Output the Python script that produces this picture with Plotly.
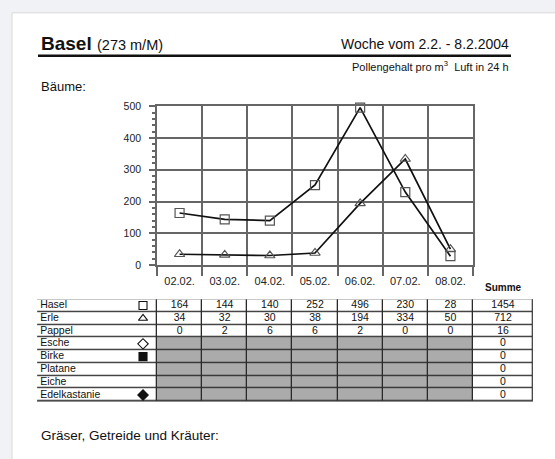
import plotly.graph_objects as go

# ---------------- data ----------------
days = ["02.02.", "03.02.", "04.02.", "05.02.", "06.02.", "07.02.", "08.02."]
hasel = [164, 144, 140, 252, 496, 230, 28]
erle = [34, 32, 30, 38, 194, 334, 50]
pappel = [0, 2, 6, 6, 2, 0, 0]
species = ["Hasel", "Erle", "Pappel", "Esche", "Birke", "Platane", "Eiche", "Edelkastanie"]
species_symbols = ["square-open", "triangle-up-open", None, "diamond-open", "square", None, None, "diamond"]
summe = [1454, 712, 16, 0, 0, 0, 0, 0]
table_values = [hasel, erle, pappel, None, None, None, None, None]
y_ticks = [0, 100, 200, 300, 400, 500]

# ---------------- layout helpers ----------------
W, H = 555, 459
def px(x):
    return x / W
def py(y):
    return 1 - y / H

FONT = "Liberation Sans, Arial, sans-serif"
GRID = "#666666"

# table column geometry in category units (1 unit == one day column)
name_w = (157 - 37) / ((473 - 157) / 7)
sum_w = (533 - 473) / ((473 - 157) / 7)
x_left = -0.5 - name_w
x_right = 6.5 + sum_w
x_edges = [x_left] + [i - 0.5 for i in range(len(days) + 1)] + [x_right]
sum_x = (6.5 + x_right) / 2

fig = go.Figure()

# ---------------- chart ----------------
fig.add_trace(go.Scatter(
    x=days, y=hasel, mode="lines+markers", name="Hasel",
    line=dict(color="#111111", width=1.7),
    marker=dict(symbol="square-open", size=9, color="#555555", line=dict(width=1.2)),
    cliponaxis=False, hoverinfo="skip", showlegend=False))
fig.add_trace(go.Scatter(
    x=days, y=erle, mode="lines+markers", name="Erle",
    line=dict(color="#111111", width=1.7),
    marker=dict(symbol="triangle-up-open", size=9, color="#555555", line=dict(width=1.2)),
    cliponaxis=False, hoverinfo="skip", showlegend=False))

# ---------------- table ----------------
n_rows = len(species)
z = []
for r in range(n_rows):
    row = [0]
    for c in range(len(days)):
        row.append(1 if table_values[r] is None else 0)
    row.append(0)
    z.append(row)

fig.add_trace(go.Heatmap(
    z=z, x=x_edges, y=[r - 0.5 for r in range(n_rows + 1)],
    colorscale=[[0, "#ffffff"], [1, "#ababab"]], zmin=0, zmax=1,
    showscale=False, xgap=1.3, ygap=1.3, hoverinfo="skip",
    xaxis="x2", yaxis="y2"))

# cell values
vx, vy, vt = [], [], []
for r in range(n_rows):
    if table_values[r] is not None:
        for c, v in enumerate(table_values[r]):
            vx.append(c); vy.append(r); vt.append(str(v))
    vx.append(sum_x); vy.append(r); vt.append(str(summe[r]))
fig.add_trace(go.Scatter(
    x=vx, y=vy, text=vt, mode="text", textposition="middle center",
    textfont=dict(family=FONT, size=10.5, color="#111111"),
    xaxis="x2", yaxis="y2", hoverinfo="skip", showlegend=False, cliponaxis=False))

# species names
fig.add_trace(go.Scatter(
    x=[x_left + 0.07] * n_rows, y=list(range(n_rows)), text=species,
    mode="text", textposition="middle right",
    textfont=dict(family=FONT, size=10.5, color="#111111"),
    xaxis="x2", yaxis="y2", hoverinfo="skip", showlegend=False, cliponaxis=False))

# symbols
sx, sy, ss = [], [], []
for r, s in enumerate(species_symbols):
    if s is not None:
        sx.append(-0.81); sy.append(r); ss.append(s)
fig.add_trace(go.Scatter(
    x=sx, y=sy, mode="markers",
    marker=dict(symbol=ss, size=8, color="#111111", line=dict(width=1.1, color="#111111")),
    xaxis="x2", yaxis="y2", hoverinfo="skip", showlegend=False, cliponaxis=False))

shapes = [
    # page
    dict(type="rect", xref="paper", yref="paper", x0=px(12), x1=px(600), y0=py(500), y1=py(7),
         fillcolor="#ffffff", line=dict(color="#d8d8d8", width=1), layer="below"),
    # title rule
    dict(type="line", xref="paper", yref="paper", x0=px(38), x1=px(511), y0=py(51), y1=py(51),
         line=dict(color="#111111", width=2.5)),
    # table border background
    dict(type="rect", xref="x2", yref="y2", x0=x_left, x1=x_right, y0=-0.5, y1=n_rows - 0.5,
         fillcolor="#2a2a2a", line=dict(color="#555555", width=1.5), layer="below"),
]

annotations = [
    dict(text="<b>Basel</b> <span style='font-size:14.5px'>(273 m/M)</span>",
         x=px(39), y=py(38), xref="paper", yref="paper", xanchor="left", yanchor="middle",
         showarrow=False, font=dict(family=FONT, size=19, color="#111111")),
    dict(text="Woche vom 2.2. - 8.2.2004",
         x=px(511), y=py(39), xref="paper", yref="paper", xanchor="right", yanchor="middle",
         showarrow=False, font=dict(family=FONT, size=14, color="#111111")),
    dict(text="Pollengehalt pro m<sup>3</sup>  Luft in 24 h",
         x=px(511), y=py(62), xref="paper", yref="paper", xanchor="right", yanchor="middle",
         showarrow=False, font=dict(family=FONT, size=11, color="#111111")),
    dict(text="Bäume:",
         x=px(39), y=py(83), xref="paper", yref="paper", xanchor="left", yanchor="middle",
         showarrow=False, font=dict(family=FONT, size=13, color="#111111")),
    dict(text="<b>Summe</b>",
         x=px(503), y=py(289), xref="paper", yref="paper", xanchor="center", yanchor="middle",
         showarrow=False, font=dict(family=FONT, size=10, color="#111111")),
    dict(text="Gräser, Getreide und Kräuter:",
         x=px(39), y=py(441), xref="paper", yref="paper", xanchor="left", yanchor="middle",
         showarrow=False, font=dict(family=FONT, size=13.5, color="#111111")),
]

fig.update_layout(
    width=W, height=H, margin=dict(l=0, r=0, t=0, b=0),
    paper_bgcolor="#f1f2f5", plot_bgcolor="rgba(0,0,0,0)",
    showlegend=False, shapes=shapes, annotations=annotations,
    font=dict(family=FONT, color="#111111"),
    xaxis=dict(domain=[px(157), px(473)], type="category", categoryorder="array",
               categoryarray=days, range=[-0.5, 6.5], tickson="boundaries",
               ticks="outside", ticklen=9, tickcolor=GRID, tickwidth=1.5,
               showgrid=True, gridcolor=GRID, gridwidth=1.5,
               showline=True, linecolor=GRID, linewidth=1.5, mirror=True,
               zeroline=False, ticklabelstandoff=5,
               tickfont=dict(family=FONT, size=11, color="#222222"),
               fixedrange=True),
    yaxis=dict(domain=[py(266), py(103)], range=[0, 500], tickvals=y_ticks,
               ticks="outside", ticklen=6, tickcolor=GRID, tickwidth=1.5,
               showgrid=True, gridcolor=GRID, gridwidth=1.5,
               showline=True, linecolor=GRID, linewidth=1.5, mirror=True,
               zeroline=False, ticklabelstandoff=6,
               minor=dict(dtick=20, ticks="outside", ticklen=3, tickcolor=GRID, showgrid=False),
               tickfont=dict(family=FONT, size=10.5, color="#222222"), fixedrange=True),
    xaxis2=dict(domain=[px(37), px(533)], range=[x_left, x_right], anchor="y2",
                visible=False, fixedrange=True),
    yaxis2=dict(domain=[py(406), py(301)], range=[n_rows - 0.5, -0.5], anchor="x2",
                visible=False, fixedrange=True),
)

fig.write_html("out.html", config={"displayModeBar": False},
               post_script="document.body.style.margin='0';document.body.style.overflow='hidden';")
